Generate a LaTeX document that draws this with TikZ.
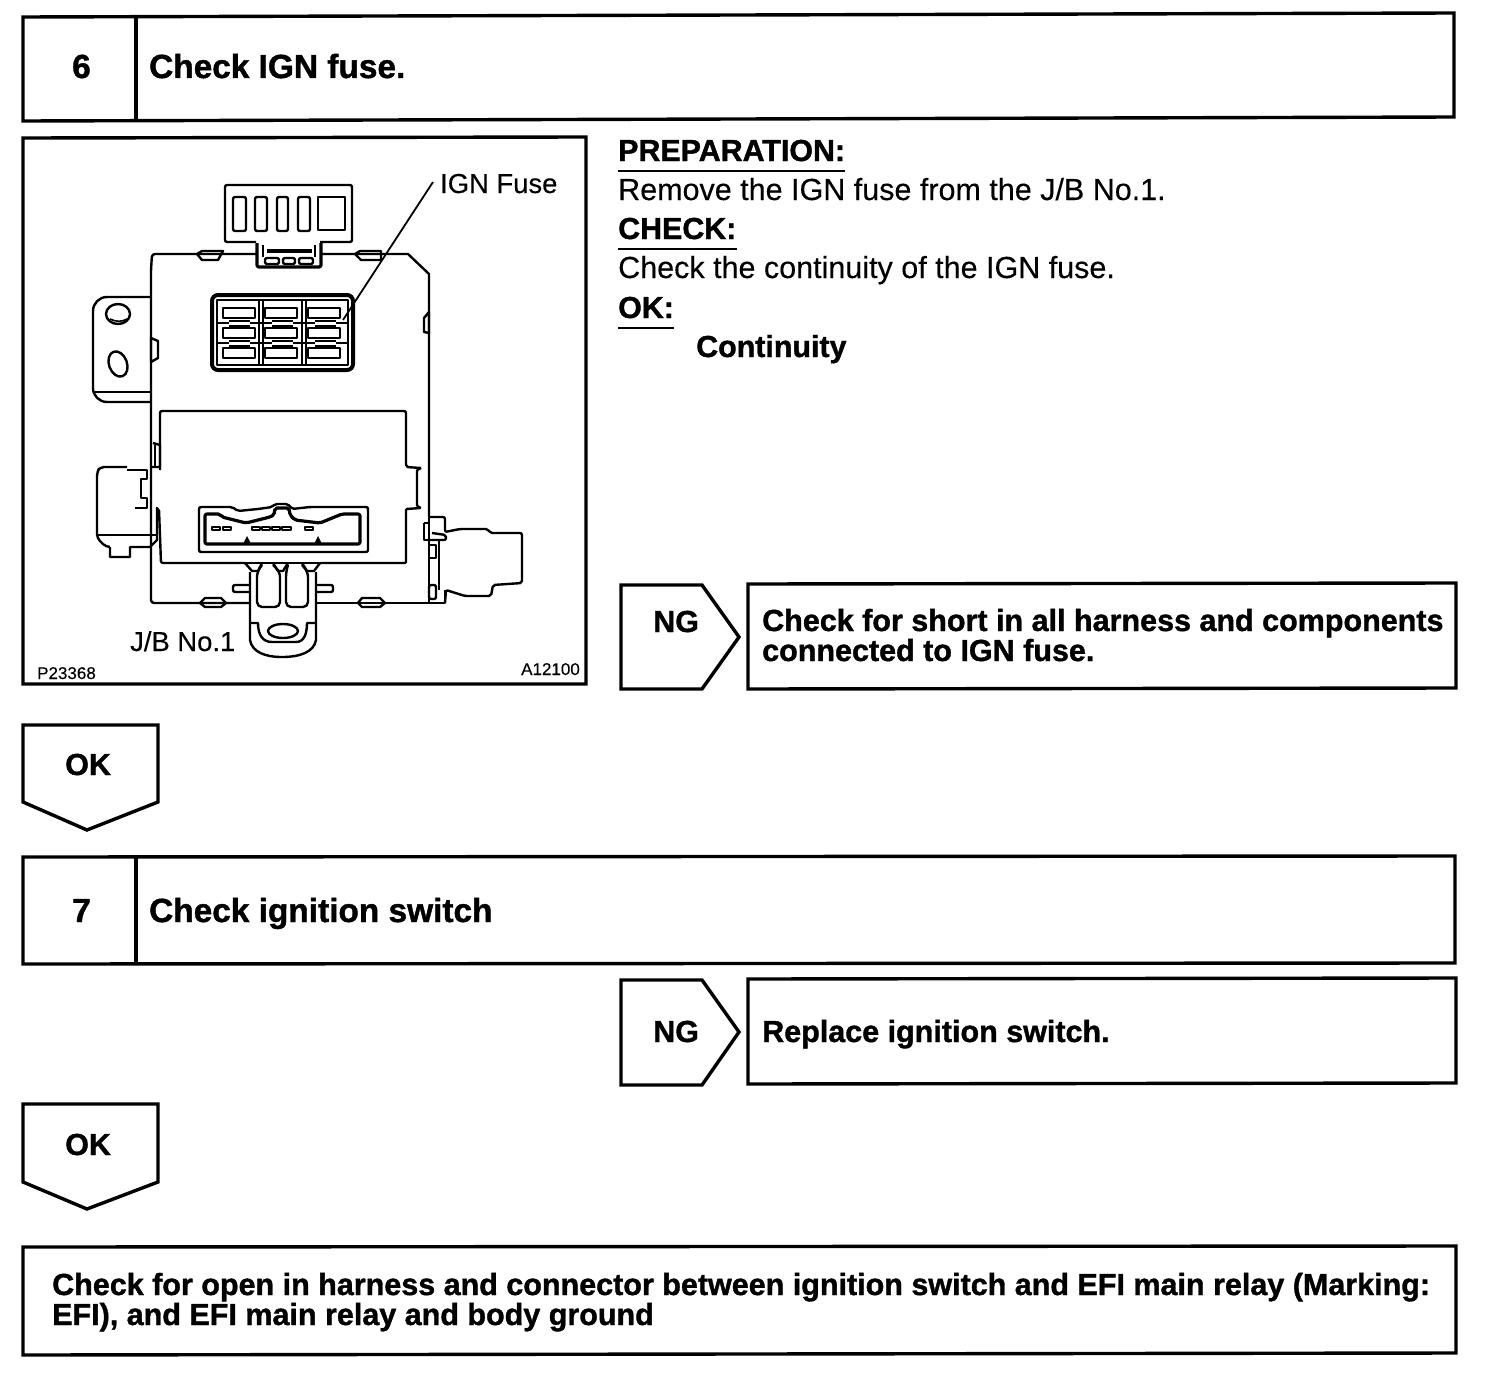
\documentclass[tikz,border=0pt]{standalone}
\usepackage{fontspec}
\setmainfont[BoldFeatures={FakeBold=1.2},FakeBold=0.25]{Liberation Sans}
\tikzset{
  frame/.style={draw=black,line width=3.4pt,line join=miter},
  part/.style={draw=black,line width=2.4pt,line join=round},
  thick part/.style={draw=black,line width=3.2pt,line join=round},
  thin part/.style={draw=black,line width=1.6pt,line join=round},
  title/.style={anchor=base west,inner sep=0pt,font=\bfseries\fontsize{33.4}{33.4}\selectfont},
  sub/.style={anchor=base west,inner sep=0pt,font=\bfseries\fontsize{30.5}{30.5}\selectfont},
  body/.style={anchor=base west,inner sep=0pt,font=\fontsize{30.5}{30.5}\selectfont},
  heads/.style={anchor=base west,inner sep=0pt,font=\bfseries\fontsize{30.4}{30.4}\selectfont},
  lab/.style={anchor=base west,inner sep=0pt,font=\fontsize{27.4}{27.4}\selectfont},
  code/.style={anchor=base west,inner sep=0pt,font=\fontsize{17}{17}\selectfont},
}
\begin{document}
\begin{tikzpicture}[x=1pt,y=-1pt]
\useasboundingbox[fill=white] (0,0) rectangle (1504,1378);
% frames
\path[frame] (23,17) -- (1454,13) -- (1454,117) -- (23,121) -- cycle;
\path[frame] (136,17) -- (136,121);
\path[frame] (23,138) -- (586,137) -- (586,684) -- (23,684) -- cycle;
\path[frame] (621,585) -- (702,585) -- (739,637) -- (702,689) -- (621,689) -- cycle;
\path[frame] (748,584) -- (1456,583) -- (1456,688) -- (748,689) -- cycle;
\path[frame] (23,725) -- (158,725) -- (158,802) -- (87,830) -- (23,802) -- cycle;
\path[frame] (23,857) -- (1455,856) -- (1455,963) -- (23,964) -- cycle;
\path[frame] (136,857) -- (136,964);
\path[frame] (621,980) -- (702,980) -- (739,1032) -- (702,1085) -- (621,1085) -- cycle;
\path[frame] (748,979) -- (1456,978) -- (1456,1083) -- (748,1084) -- cycle;
\path[frame] (23,1104) -- (158,1104) -- (158,1182) -- (87,1209) -- (23,1182) -- cycle;
\path[frame] (23,1247) -- (1456,1246) -- (1456,1353) -- (23,1355) -- cycle;
% titles
\node[title] (n6) at (72,78) {6};
\node[title] (t6) at (149,78) {Check IGN fuse.};
\node[title] (n7) at (72,922) {7};
\node[title] (t7) at (149,922) {Check ignition switch};
\node[sub] (ng1) at (653,632) {NG};
\node[sub] (r1a) at (762,631) {Check for short in all harness and components};
\node[sub] (r1b) at (762,661) {connected to IGN fuse.};
\node[sub] (ok1) at (65,775) {OK};
\node[sub] (ng2) at (653,1042) {NG};
\node[sub] (r2) at (762,1042) {Replace ignition switch.};
\node[sub] (ok2) at (65,1155) {OK};
\node[sub] (fa) at (52,1295) {Check for open in harness and connector between ignition switch and EFI main relay (Marking:};
\node[sub] (fb) at (52,1325) {EFI), and EFI main relay and body ground};
% instructions
\node[heads] (h1) at (618,161) {PREPARATION:};
\node[body] (b1) at (618,200) {Remove the IGN fuse from the J/B No.1.};
\node[heads] (h2) at (618,239) {CHECK:};
\node[body] (b2) at (618,278) {Check the continuity of the IGN fuse.};
\node[heads] (h3) at (618,318) {OK:};
\node[heads] (b3) at (696,357) {Continuity};
\draw[line width=2pt] (618,171) -- (845,171) (618,249) -- (737,249) (618,328) -- (674,328);
% labels in picture
\node[lab] (ign) at (440,193) {IGN Fuse};
\node[lab] (jb) at (130,651) {J/B No.1};
\node[code] (p) at (37,679) {P23368};
\node[code] (a) at (521,675) {A12100};
% top connector
\draw[part,rounded corners=2pt] (256,242) -- (225,242) -- (225,185) -- (352,185) -- (352,242) -- (320,242);
\foreach \xa/\xb in {233/246,255/267,277/288,298/310} \draw[part,rounded corners=2pt] (\xa,197) rectangle (\xb,231);
\draw[part] (318,197) rectangle (345,230);
\draw[thick part,rounded corners=2pt] (257,243) -- (257,267) -- (321,267) -- (321,243);
\draw[part] (263,245) -- (263,257) (315,245) -- (315,257);
\draw[thick part] (267,251) -- (312,251);
\draw[part,rounded corners=2pt] (265,258) rectangle (279,264) (283,258) rectangle (295,264) (299,258) rectangle (313,264);
% main outline
\draw[part,rounded corners=3pt] (256,254) -- (197,254) -- (152,254) -- (151,270) -- (151,603) -- (250,603);
\draw[part] (320,254) -- (408,254) -- (429,274) -- (429,517);
\draw[part] (429,517) -- (429,603);
\draw[part] (316,603) -- (445,603) -- (445,590);
\draw[part] (197,254) -- (202,251) -- (223,251) -- (218,260) -- (202,260) -- cycle;
\draw[part] (355,254) -- (360,251) -- (381,251) -- (381,260) -- (361,260) -- cycle;
\draw[part] (151,338) -- (158,341) -- (158,358) -- (151,362) -- cycle;
\draw[part] (429,312) -- (424,318) -- (424,332) -- (429,333) -- cycle;
% bottom tabs
\draw[part] (200,603) -- (205,598) -- (221,598) -- (226,603) -- (221,607) -- (205,607) -- cycle;
\draw[part] (358,603) -- (362,598) -- (380,598) -- (385,603) -- (380,607) -- (362,607) -- cycle;
% left bracket
\draw[part,rounded corners=14pt] (151,297) -- (93,297) -- (93,402) -- (151,402);
\draw[thin part] (95,392) -- (151,392);
\draw[part] (118,314) ellipse (12 and 10);
\draw[thin part] (110,319) .. controls (116,322) and (122,322) .. (127,319);
\draw[part,rotate around={20:(118,364)}] (118,364) ellipse (9 and 13);
% fuse block
\draw[line width=4pt,rounded corners=6pt] (212,295) rectangle (353,370);
\draw[part] (217,300) rectangle (348,365);
\foreach \xa/\xb in {223/255,265/297,308/340}
  \foreach \ya/\yb in {308/318,328/338,348/358}
    \draw[part] (\xa,\ya) rectangle (\xb,\yb);
\draw[part] (259,300) -- (259,365) (263,300) -- (263,365) (302,300) -- (302,365) (306,300) -- (306,365);
\foreach \ya in {321,341} {
  \draw[part] (217,\ya+2) -- (229,\ya+2) (250,\ya+2) -- (272,\ya+2) (293,\ya+2) -- (315,\ya+2) (336,\ya+2) -- (348,\ya+2);
  \draw[thin part] (229,\ya) -- (250,\ya) (272,\ya) -- (293,\ya) (315,\ya) -- (336,\ya);
  \draw[thin part] (229,\ya+5) -- (250,\ya+5) (272,\ya+5) -- (293,\ya+5) (315,\ya+5) -- (336,\ya+5);
}
% leader
\coordinate (fusept) at (343,320);
\draw[line width=1.8pt] (433,182) -- (fusept);
% inner housing
\draw[part,rounded corners=2pt] (160,470) -- (160,411) -- (406,411) -- (406,467) -- (421,468);
\draw[part,rounded corners=1pt] (421,468) -- (417,470) -- (417,506) -- (421,508) -- (406,509) -- (406,563) -- (320,563);
\draw[part,rounded corners=2pt] (245,563) -- (161,563) -- (159,509) -- (156,508);
\draw[part] (153,443) -- (160,445) -- (160,467) -- (151,467);
\draw[thin part] (155,445) -- (155,466);
% left connector
\draw[part,rounded corners=4pt] (127,467) -- (100,467) -- (97,472) -- (97,538) -- (106,547) -- (110,547);
\draw[part] (110,547) -- (110,557) -- (130,557) -- (130,547) -- (150,547) -- (157,540) -- (157,509);
\draw[part] (97,535) -- (157,535);
\draw[part] (127,470) -- (147,470) -- (147,479) -- (141,479) -- (141,498) -- (147,498) -- (147,508) -- (135,508);
% big connector
\draw[part,rounded corners=2pt] (199,507) -- (232,507) -- (238,511) -- (258,509) -- (272,507) -- (275,504) -- (288,504) -- (292,509) -- (310,507) -- (368,507) -- (368,552) -- (199,552) -- cycle;
\draw[thick part,rounded corners=2pt] (205,514) -- (205,544) -- (360,544) -- (360,514) -- (342,514) -- (320,523) -- (295,520) -- (290,515) -- (289,508) -- (275,508) -- (274,515) -- (270,517) -- (246,523) -- (222,517) -- (220,514) -- cycle;
\foreach \xa/\xb in {212/220,223/231,252/260,262/270,272/280,282/291,305/313}
  \draw[part] (\xa,527) rectangle (\xb,530);
\fill (243,544) -- (247,536) -- (251,544) -- cycle;
\fill (314,544) -- (318,536) -- (322,544) -- cycle;
% bottom handle
\draw[part] (245,563) -- (252,571) -- (258,571) -- (262,563);
\draw[part] (273,563) -- (278,571) -- (283,571) -- (288,563);
\draw[part] (302,563) -- (307,571) -- (314,571) -- (320,563);
\draw[part] (245,563) -- (320,563);
\draw[part,rounded corners=5pt] (262,565) -- (257,572) -- (257,607) -- (280,607) -- (280,572) -- (273,565);
\draw[part,rounded corners=5pt] (288,565) -- (286,572) -- (286,607) -- (308,607) -- (308,572) -- (302,565);
\draw[part] (250,572) -- (250,640) .. controls (252,652) and (265,657) .. (282,657) .. controls (300,657) and (314,652) .. (316,640) -- (316,572);
\draw[part] (250,623) -- (258,623) .. controls (258,634) and (262,642) .. (272,642) -- (296,642) .. controls (304,642) and (307,634) .. (307,623) -- (316,623);
\draw[part] (283,631) ellipse (15 and 7);
\draw[part,rounded corners=2pt] (316,585) -- (333,585) -- (333,592) -- (316,592);
\draw[part,rounded corners=2pt] (250,585) -- (233,585) -- (233,592) -- (250,592);
% right connector
\draw[part,rounded corners=2pt] (429,517) -- (445,517) -- (445,532) -- (460,529) -- (488,529) -- (490,533) -- (522,533) -- (522,583) -- (493,585) -- (491,596) -- (465,596) -- (446,590) -- (445,603);
\draw[thin part] (439,540) -- (439,590);
\draw[part] (424,523) -- (424,540) -- (429,540) (424,523) -- (429,523);
\draw[part,rounded corners=2pt] (429,540) -- (446,540) -- (446,535) -- (432,533);
\draw[part] (429,545) rectangle (436,558);
\draw[part,rounded corners=2pt] (429,585) -- (429,599) -- (436,599) -- (436,585) -- cycle;
\end{tikzpicture}
\end{document}
